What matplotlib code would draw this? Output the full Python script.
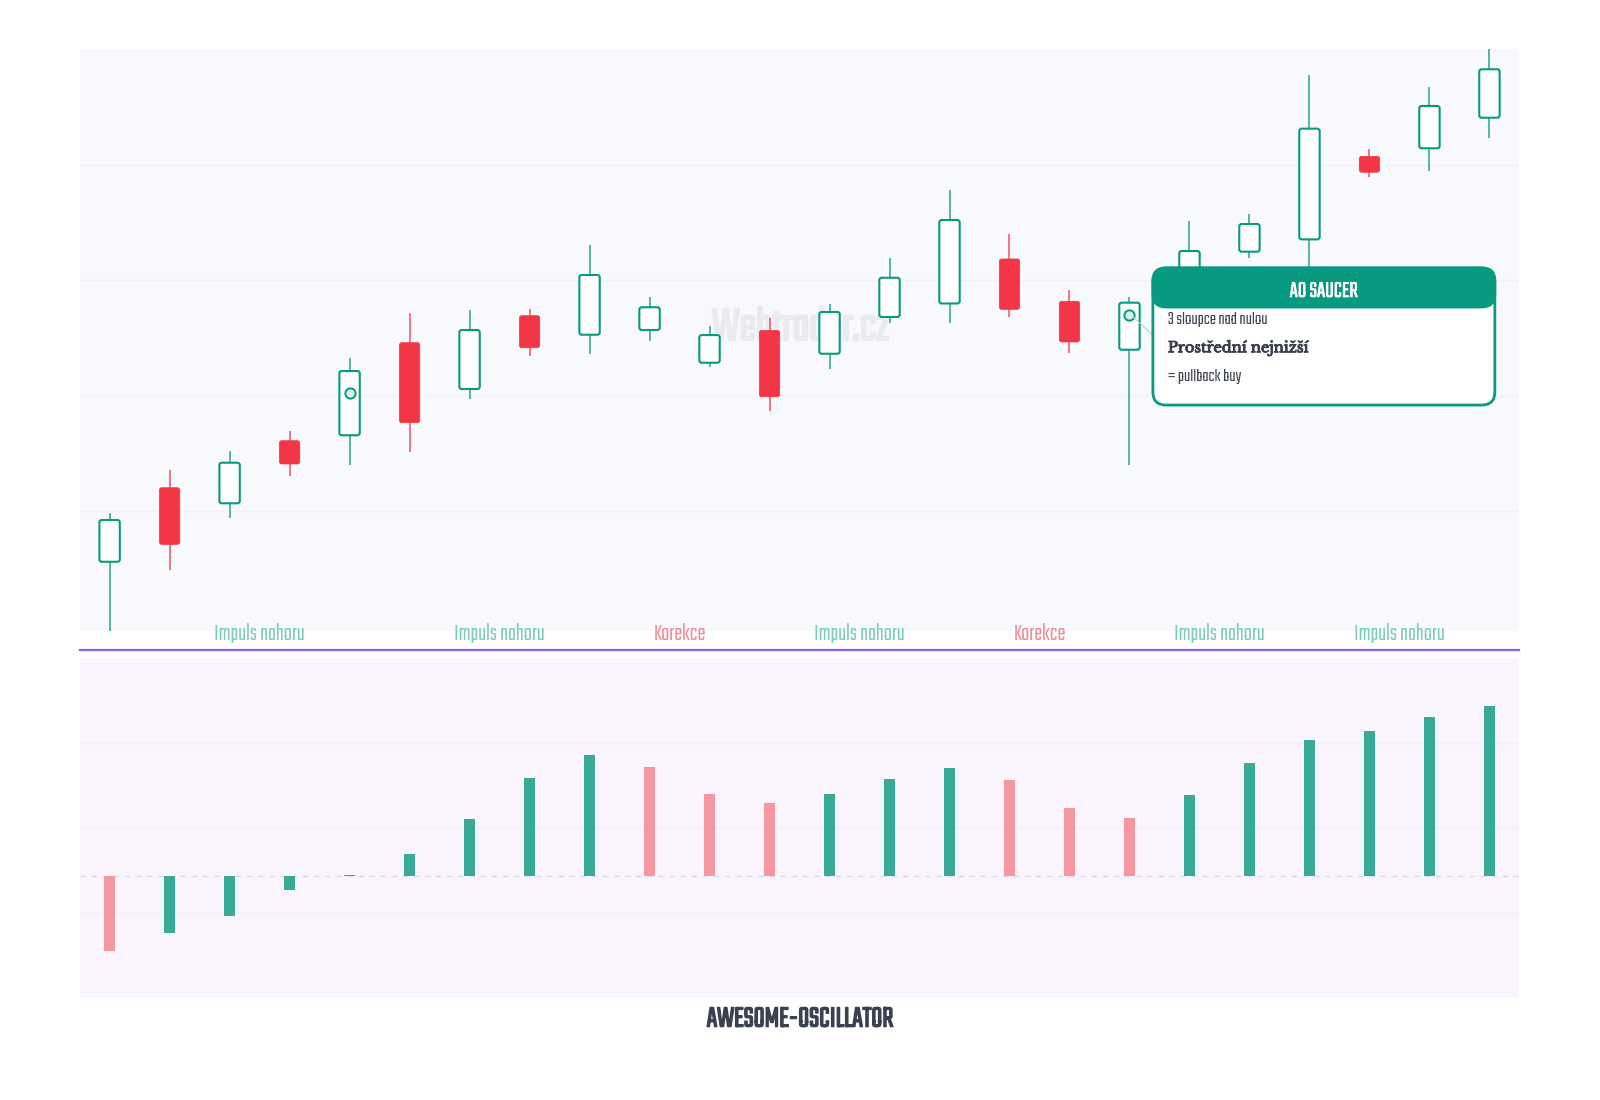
import numpy as np
import matplotlib
matplotlib.use('Agg')
import matplotlib.pyplot as plt
import matplotlib.patheffects as pe
from matplotlib.patches import FancyBboxPatch
from matplotlib.lines import Line2D

# --- donnees ---
opens  = [105.60, 112.02, 110.67, 116.10, 116.57, 124.60, 120.58, 126.94, 125.29, 125.70, 122.86, 125.67,
          123.64, 126.83, 128.00, 131.86, 128.19, 123.99, 129.17, 132.49, 133.56, 140.76, 141.46, 144.11]
highs  = [109.85, 113.56, 115.23, 116.94, 123.24, 127.15, 127.43, 127.49, 133.07, 128.53, 126.02, 126.77,
          127.93, 131.97, 137.88, 134.00, 129.17, 128.59, 135.18, 135.76, 147.81, 141.40, 146.75, 151.00]
lows   = [99.40, 104.88, 109.37, 113.04, 113.99, 115.12, 119.69, 123.47, 123.59, 124.77, 122.46, 118.70,
          122.34, 126.28, 126.28, 126.80, 123.68, 113.99, 128.30, 131.97, 130.03, 138.99, 139.49, 142.38]
closes = [109.22, 107.11, 114.19, 114.08, 122.14, 117.66, 125.70, 124.16, 130.47, 127.67, 125.26, 119.91,
          127.26, 130.23, 135.24, 127.49, 124.66, 128.07, 132.55, 134.89, 143.16, 139.38, 145.13, 148.31]

# points de signal (cercles)
signal_idx = [4, 17]
signal_price = [120.26, 127.03]

# Awesome Oscillator
ao_values = [-0.747, -0.563, -0.397, -0.140, 0.017, 0.220, 0.573, 0.980, 1.217, 1.090, 0.823, 0.737,
             0.827, 0.970, 1.080, 0.967, 0.687, 0.587, 0.813, 1.137, 1.363, 1.450, 1.593, 1.707]

# phases du marche
phase_pos = [2.5, 6.5, 9.5, 12.5, 15.5, 18.5, 21.5]
phase_labels = ['Impuls nahoru', 'Impuls nahoru', 'Korekce', 'Impuls nahoru', 'Korekce',
                'Impuls nahoru', 'Impuls nahoru']

GREEN = '#089981'
GREEN_WICK = '#3aaa96'
RED = '#f23645'
RED_WICK = '#f0616c'
COND = ['Teko', 'Barlow Condensed', 'DejaVu Sans']
SERIF = ['Libre Baskerville', 'Liberation Serif', 'DejaVu Serif']

fig = plt.figure(figsize=(16, 11), dpi=100)
fig.patch.set_facecolor('white')

ax = fig.add_axes([0.04975, 0.42673, 0.8999, 0.52873])
ax_ao = fig.add_axes([0.04975, 0.0930, 0.8999, 0.3085])

n = len(opens)
x = np.arange(n)
aspect = 60 / 11.53  # px par unite x / px par unite y

# --- graphique des bougies ---
ax.set_facecolor('#f8f9fc')
ax.set_xlim(-0.5, n - 0.5)
ax.set_ylim(99.63, 150.07)
ax.set_yticks([110, 120, 130, 140])
ax.grid(True, axis='y', color='#f0f2f6', linewidth=1)
ax.set_axisbelow(True)
ax.tick_params(left=False, bottom=False, labelleft=False, labelbottom=False)
for s in ax.spines.values():
    s.set_visible(False)

ax.text(11.52, 125.96, 'Webtrader.cz', fontsize=36, fontweight='bold', color='#e9ebf0',
        ha='center', va='center', family=COND, zorder=0.5,
        path_effects=[pe.withStroke(linewidth=1.6, foreground='#e9ebf0')])

body_w = 0.34
for i in range(n):
    bull = closes[i] >= opens[i]
    wick_col = GREEN_WICK if bull else RED_WICK
    ax.vlines(x[i], lows[i], highs[i], color=wick_col, linewidth=1.2, zorder=2)
    lo, hi = min(opens[i], closes[i]), max(opens[i], closes[i])
    if bull:
        body = FancyBboxPatch((x[i] - body_w / 2, lo), body_w, hi - lo,
                              boxstyle='round,pad=0,rounding_size=0.04', mutation_aspect=aspect,
                              facecolor='white', edgecolor=GREEN, linewidth=1.5, zorder=3)
    else:
        body = FancyBboxPatch((x[i] - body_w / 2, lo), body_w, hi - lo,
                              boxstyle='round,pad=0,rounding_size=0.04', mutation_aspect=aspect,
                              facecolor=RED, edgecolor=RED, linewidth=0.5, zorder=3)
    ax.add_patch(body)

ax.scatter(signal_idx, signal_price, s=55, facecolor='#d6efe7', edgecolor=GREEN, linewidth=1.4, zorder=4)

# etiquettes des phases
for pos, lab in zip(phase_pos, phase_labels):
    col = '#f58a95' if lab == 'Korekce' else '#7dcdb8'
    ax.text(pos, -0.004, lab, transform=ax.get_xaxis_transform(), ha='center', va='center',
            fontsize=17, color=col, family=COND, clip_on=False, zorder=5)

# --- encadre AO SAUCER ---
box_l, box_r = 17.39, 23.09
box_b, box_t, head_b = 119.19, 131.08, 127.69
ax.plot([signal_idx[1] + 0.06, box_l], [signal_price[1] - 0.2, 125.26], color='#a8dccd',
        linewidth=0.8, zorder=4)
box = FancyBboxPatch((box_l, box_b), box_r - box_l, box_t - box_b,
                     boxstyle='round,pad=0,rounding_size=0.22', mutation_aspect=aspect,
                     facecolor='white', edgecolor=GREEN, linewidth=2, zorder=6, clip_on=False)
ax.add_patch(box)
head = FancyBboxPatch((box_l, head_b), box_r - box_l, box_t - head_b,
                      boxstyle='round,pad=0,rounding_size=0.22', mutation_aspect=aspect,
                      facecolor=GREEN, edgecolor=GREEN, linewidth=2, zorder=7, clip_on=False)
ax.add_patch(head)
ax.text((box_l + box_r) / 2, 129.17, 'AO SAUCER', ha='center', va='center', fontsize=17,
        fontweight='semibold', color='white', family=COND, zorder=8,
        path_effects=[pe.withStroke(linewidth=0.5, foreground='white')])
ax.text(17.64, 126.60, '3 sloupce nad nulou', ha='left', va='center', fontsize=13.5,
        fontweight='light', color='#3f4450', family=COND, zorder=8)
ax.text(17.64, 124.14, 'Prostřední nejnižší', ha='left', va='center', fontsize=10.5,
        fontweight='bold', color='#3a3f4b', family=SERIF, zorder=8,
        path_effects=[pe.withStroke(linewidth=0.7, foreground='#3a3f4b')])
ax.text(17.64, 121.70, '= pullback buy', ha='left', va='center', fontsize=13.5,
        fontweight='light', color='#3f4450', family=COND, zorder=8)

# --- ligne de separation ---
fig.add_artist(Line2D([0.04975, 0.94965], [0.4094, 0.4094], color='#8b5cf6', linewidth=1.6))

# --- Awesome Oscillator ---
ax_ao.set_facecolor('#f9f4fd')
ax_ao.set_xlim(-0.5, n - 0.5)
ax_ao.set_ylim(-1.214, 2.18)
ax_ao.set_yticks([-0.364, 0.486, 1.336])
ax_ao.grid(True, axis='y', color='#f4eef8', linewidth=1)
ax_ao.set_axisbelow(True)
ax_ao.tick_params(left=False, bottom=False, labelleft=False, labelbottom=False)
for s in ax_ao.spines.values():
    s.set_visible(False)

ao = np.array(ao_values)
rising = np.diff(ao, prepend=np.inf) > 0
ao_colors = ['#38ab98' if r else '#f597a1' for r in rising]
ax_ao.axhline(0, color='#dcdbe8', linewidth=1, linestyle=(0, (4, 4)), zorder=1)
ax_ao.bar(x, ao, width=0.19, color=ao_colors, zorder=2)

fig.text(0.5, 0.0745, 'AWESOME-OSCILLATOR', ha='center', va='center', fontsize=22,
         fontweight='bold', color='#3a4150', family=COND,
         path_effects=[pe.withStroke(linewidth=1.1, foreground='#3a4150')])

fig.savefig('out.png', dpi=100)
